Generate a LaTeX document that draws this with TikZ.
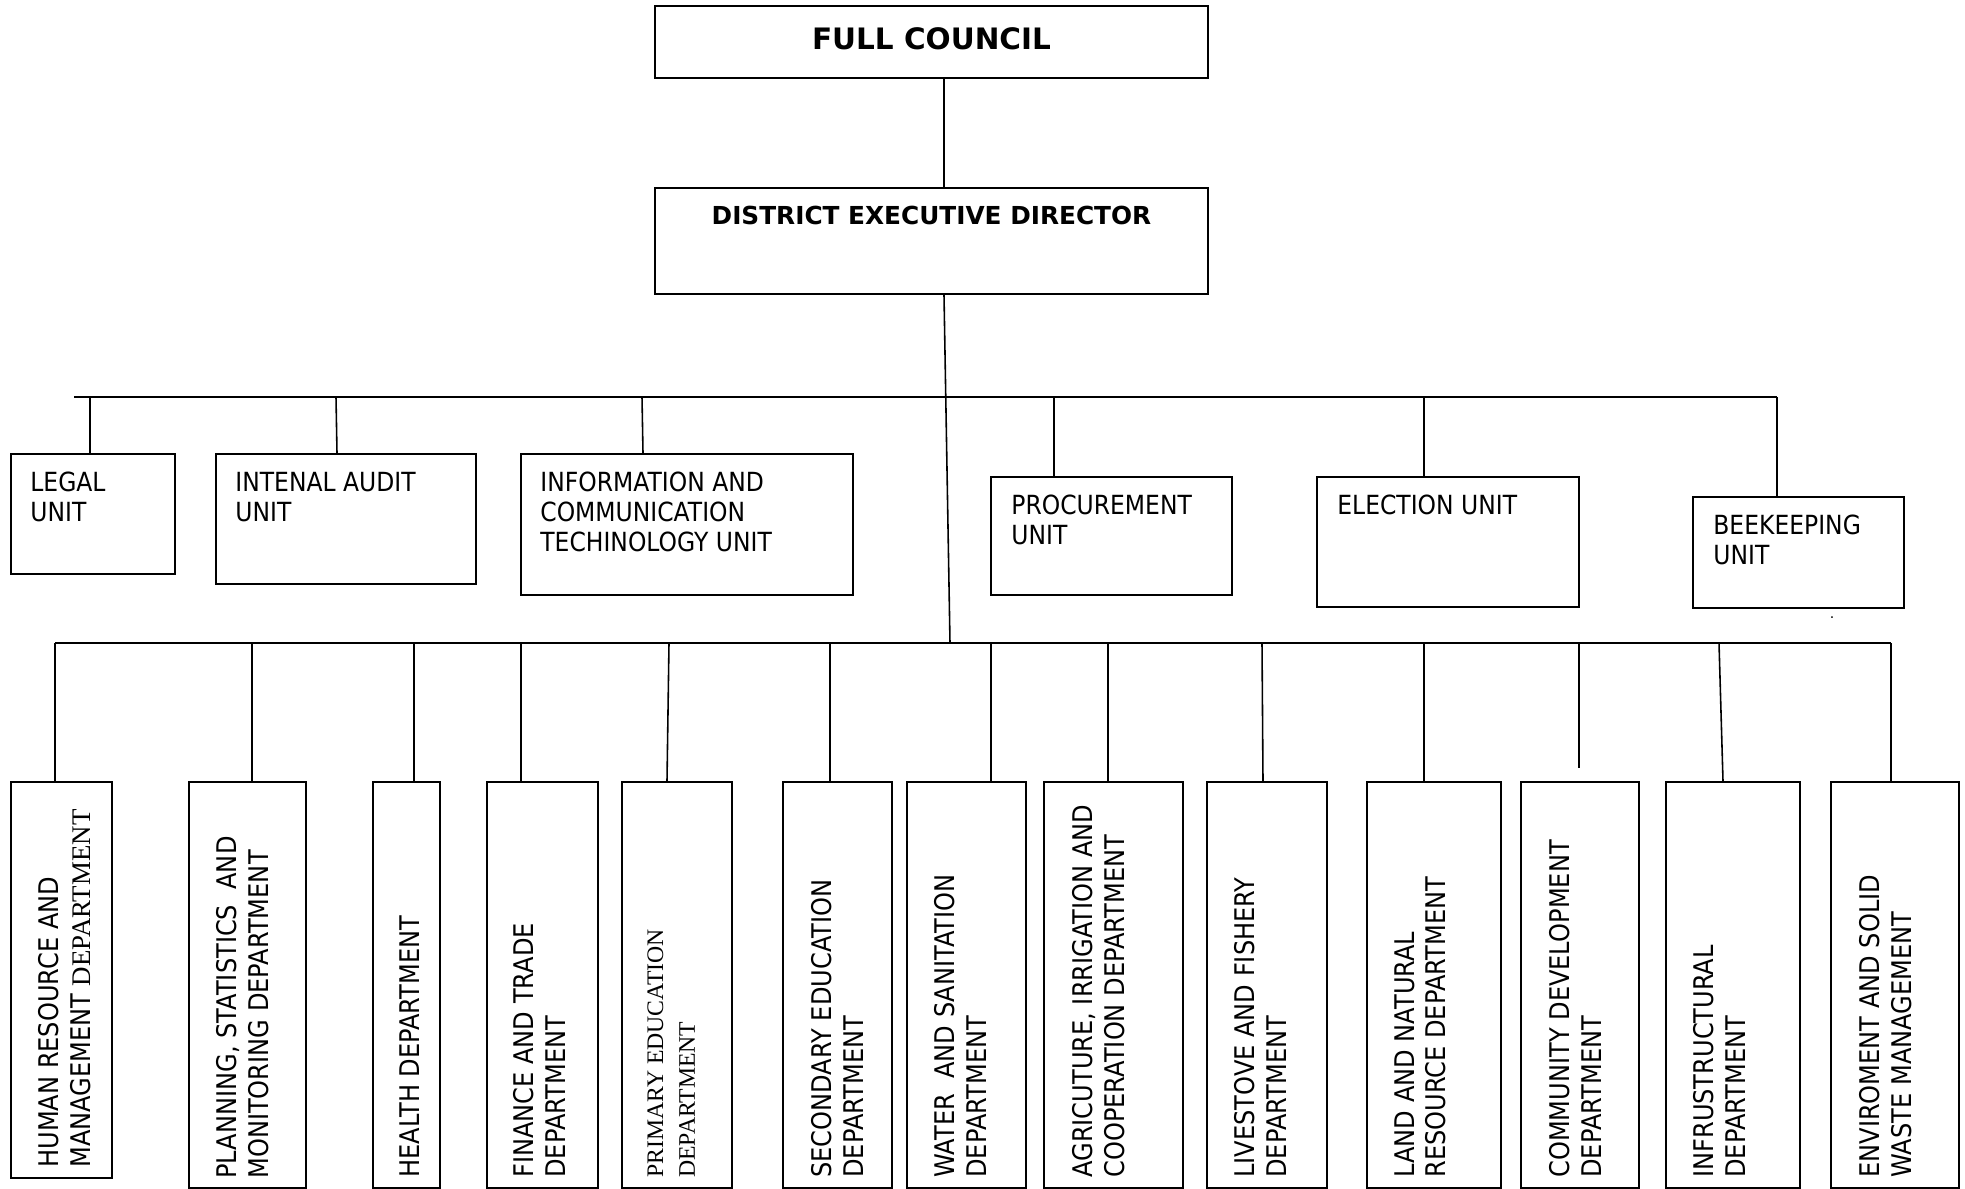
\documentclass[tikz,border=0pt]{standalone}
\usepackage{fontspec}
\setmainfont{DejaVu Sans}
\newfontfamily\narrowsans[FakeStretch=0.89]{DejaVu Sans}
\newfontfamily\timesfont{Liberation Serif}
\usetikzlibrary{math, calc, fit}

\begin{document}
\begin{tikzpicture}[x=0.02cm, y=-0.02cm,
  box/.style={draw, line width=1.1pt, inner sep=0pt},
  link/.style={line width=0.9pt},
  bar/.style={line width=1.4pt},
  unittext/.style={anchor=north west, inner sep=0pt, align=left, font=\narrowsans\fontsize{15}{17}\selectfont},
  depttext/.style={anchor=north west, inner sep=0pt, align=left, rotate=90, font=\narrowsans\fontsize{15.4}{18.1}\selectfont}]
\tikzmath{
\ubar=397;
\dbar=643;
\dtop=782;
\dbot=1188;
}
\useasboundingbox (0,0) rectangle (1965,1189);

% top of the chart
\node[box, fit={(655,6) (1208,78)}] (fc) {};
\node[anchor=base, inner sep=0pt, font=\bfseries\fontsize{16.8}{18}\selectfont] (fctext) at ($(fc.north)+(0,44)$) {FULL COUNCIL};
\node[box, fit={(655,188) (1208,294)}] (ded) {};
\node[anchor=base, inner sep=0pt, font=\bfseries\fontsize{14.1}{18}\selectfont] (dedtext) at ($(ded.north)+(0,37)$) {DISTRICT EXECUTIVE DIRECTOR};

\draw[link] (944,0 |- fc.south) -- (944,0 |- ded.north);
\coordinate (trunk) at (950,\dbar);
\draw[link] (944,0 |- ded.south) -- (trunk);

% units
\node[box, fit={(11,454) (175,574)}] (legal) {};
\node[box, fit={(216,454) (476,584)}] (audit) {};
\node[box, fit={(521,454) (853,595)}] (ict) {};
\node[box, fit={(991,477) (1232,595)}] (proc) {};
\node[box, fit={(1317,477) (1579,607)}] (elect) {};
\node[box, fit={(1693,497) (1904,608)}] (bee) {};

\node[unittext] (legaltext) at ($(legal.north west)+(20,19)$) {LEGAL\\UNIT};
\node[unittext] (audittext) at ($(audit.north west)+(20,19)$) {INTENAL AUDIT\\UNIT};
\node[unittext] (icttext) at ($(ict.north west)+(20,19)$) {INFORMATION AND\\COMMUNICATION\\TECHINOLOGY UNIT};
\node[unittext] (proctext) at ($(proc.north west)+(21,19)$) {PROCUREMENT\\UNIT};
\node[unittext] (electtext) at ($(elect.north west)+(21,19)$) {ELECTION UNIT};
\node[unittext] (beetext) at ($(bee.north west)+(21,19)$) {BEEKEEPING\\UNIT};

\coordinate (ubarL) at (74,\ubar);
\coordinate (ubarR) at (1777,\ubar);
\draw[bar] (ubarL) -- (ubarR);
\foreach \nm/\xa/\xb in {legal/90/90, audit/336/337, ict/642/643, proc/1054/1054, elect/1424/1424, bee/1777/1777}{
\draw[link] (\xa,\ubar) -- (\xb,0 |- \nm.north);
}
\node[inner sep=0pt, font=\fontsize{8}{8}\selectfont] (dot) at (1832,618) {.};

% departments
\node[box, fit={(11,\dtop) (112,1178)}] (hr) {};
\foreach \nm/\xl/\xr in {plan/189/306, health/373/440, fin/487/598, prim/622/732, sec/783/892,
  water/907/1026, agri/1044/1183, live/1207/1327, land/1367/1501, comm/1521/1639,
  infra/1666/1800, env/1831/1959}{
\node[box, fit={(\xl,\dtop) (\xr,\dbot)}] (\nm) {};
}

\node[depttext] (hrtext) at ($(hr.south west)+(28,-11)$) {HUMAN RESOURCE AND\\MANAGEMENT {\timesfont\fontsize{15.3}{18.1}\selectfont DEPARTMENT}};
\node[depttext] (plantext) at ($(plan.south west)+(28,-10)$) {PLANNING, STATISTICS\ \ AND\\MONITORING DEPARTMENT};
\node[depttext] (healthtext) at ($(health.south west)+(27,-11)$) {HEALTH DEPARTMENT};
\node[depttext] (fintext) at ($(fin.south west)+(27,-11)$) {FINANCE AND TRADE\\DEPARTMENT};
\node[depttext, font=\timesfont\fontsize{13.5}{18.1}\selectfont] (primtext) at ($(prim.south west)+(26,-11)$) {PRIMARY EDUCATION\\DEPARTMENT};
\node[depttext] (sectext) at ($(sec.south west)+(29,-11)$) {SECONDARY EDUCATION\\DEPARTMENT};
\node[depttext] (watertext) at ($(water.south west)+(28,-11)$) {WATER\ \ AND SANITATION\\DEPARTMENT};
\node[depttext] (agritext) at ($(agri.south west)+(29,-11)$) {AGRICUTURE, IRRIGATION AND\\COOPERATION DEPARTMENT};
\node[depttext] (livetext) at ($(live.south west)+(28,-11)$) {LIVESTOVE AND FISHERY\\DEPARTMENT};
\node[depttext] (landtext) at ($(land.south west)+(28,-11)$) {LAND AND NATURAL\\RESOURCE DEPARTMENT};
\node[depttext] (commtext) at ($(comm.south west)+(29,-11)$) {COMMUNITY DEVELOPMENT\\DEPARTMENT};
\node[depttext] (infratext) at ($(infra.south west)+(28,-11)$) {INFRUSTRUCTURAL\\DEPARTMENT};
\node[depttext] (envtext) at ($(env.south west)+(29,-11)$) {ENVIROMENT AND SOLID\\WASTE MANAGEMENT};

\coordinate (dbarL) at (55,\dbar);
\coordinate (dbarR) at (1891,\dbar);
\draw[bar] (dbarL) -- (dbarR);
\foreach \nm/\xa/\xb in {hr/55/55, plan/252/252, health/414/414, fin/521/521, prim/669/667,
  sec/830/830, water/991/991, agri/1108/1108, live/1262/1263, land/1424/1424,
  infra/1719/1723, env/1891/1891}{
\draw[link] (\xa,\dbar) -- (\xb,0 |- \nm.north);
}
\coordinate (commend) at (1579,768);
\draw[link] (1579,\dbar) -- (commend);

\end{tikzpicture}
\end{document}
